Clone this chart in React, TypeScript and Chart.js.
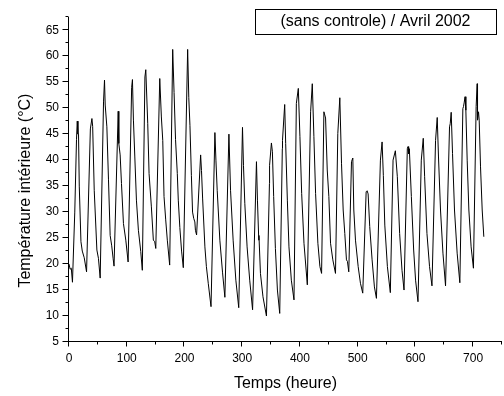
import { useEffect, useRef } from "react";
import { Chart, registerables } from "chart.js";

Chart.register(...registerables);

// ---- texts ----
const legendText = "(sans controle) / Avril 2002";
const xTitle = "Temps (heure)";
const yTitle = "Température intérieure (°C)";

// ---- axes ----
const xMin = 0;
const xMax = 750;
const xMajorStep = 100;
const xMinorStep = 50;
const yMin = 5;
const yMax = 67.5;
const yMajorStep = 5;
const yMinorStep = 2.5;
const xTickLabels = [0, 100, 200, 300, 400, 500, 600, 700];
const yTickLabels = [5, 10, 15, 20, 25, 30, 35, 40, 45, 50, 55, 60, 65];

// ---- readings: [hour, temperature °C] ----
const readings: [number, number][] = [
  // day 1
  [0, 20], [2, 19], [4, 19.2], [6, 16.5], [10, 30], [13, 44], [14.3, 47.5], [15.5, 45], [16.5, 45],
  [17.8, 35], [20.7, 24.3], [23, 22.5], [26.4, 21.2], [30.4, 18.5],
  // day 2
  [37, 46], [39.7, 48], [41, 46.5], [43.7, 34.2], [48.3, 22.7], [51, 21.1], [54, 17.3],
  // day 3
  [59.8, 51.2], [61.5, 55.4], [62.7, 50.6], [65.6, 46.4], [68.4, 36.2], [71.3, 25.5], [74, 23.5],
  [76.5, 21], [78, 19.6],
  // day 4
  [85.2, 49.4], [86.3, 43.2], [88.6, 41], [90.9, 35.5], [94.3, 27.8], [98.4, 24.6], [102.4, 20.4],
  // day 5
  [108.5, 54], [109.9, 55.5], [111.6, 47.7], [114, 40.6], [116.8, 32.3], [120.2, 26.5], [124.3, 22.4],
  [127, 18.8],
  // day 6
  [131.5, 56], [133, 57.4], [136.4, 47], [138.7, 37.4], [142.7, 31], [146.1, 24.6], [148.5, 24.3],
  [150.3, 23],
  // day 7
  [157.2, 55.7], [160, 48.3], [162.4, 43.8], [164.6, 33], [167.5, 28.5], [170.3, 24.6], [174.4, 19.8],
  // day 8
  [179.6, 61.3], [182, 53], [184.5, 44], [187.6, 37.4], [189.3, 32.3], [192, 27], [195, 22.5], [198, 19.3],
  // day 9
  [205.5, 61.3], [207.5, 52], [209.5, 46.7], [212, 37], [214, 30], [216, 28.8], [218, 28.1], [219, 26.5],
  [221, 25.6],
  // day 10
  [228, 41], [229.5, 38], [231.4, 32.7], [235.4, 23.3], [238, 19.5], [241.2, 16.3], [246, 11.8],
  // day 11
  [252.7, 45.3], [254.5, 40], [256.7, 34.2], [261.3, 24.6], [266, 18.3], [270, 13.6],
  // day 12
  [277, 45], [279.8, 34.2], [284.3, 24.6], [289, 16.9], [294, 11.6],
  // day 13
  [300.5, 46.3], [302.2, 39], [304.5, 31.7], [308.5, 23.3], [313, 16.9], [318, 11.2],
  // day 14
  [324.7, 39.7], [326.4, 32.3], [328.7, 24.6], [329, 25.5], [331.6, 18.2], [336, 13.7], [342, 10],
  // day 15
  [347.2, 35.5], [347.4, 39], [350.6, 43.3], [352.3, 41.6], [354.5, 33], [357.5, 23], [361, 15], [365, 10.5],
  // day 16
  [369.5, 42.2], [369.8, 43.8], [373.6, 50.7], [375.3, 43.2], [378.2, 32.3], [381, 23.3], [385.1, 16.9],
  [389.7, 13.1],
  // day 17
  [393.8, 50.9], [397.2, 53.8], [400, 44.5], [403, 33.6], [407, 24], [412.8, 16],
  // day 18
  [418.5, 49.3], [421.4, 54.7], [424.2, 44.5], [427.1, 33.6], [431.1, 24], [434.6, 19.5], [437.5, 18.2],
  // day 19
  [441.5, 49.3], [444.4, 48.1], [447.3, 38.1], [450.1, 33], [453, 24], [457, 20.8], [461.6, 18.2],
  // day 20
  [465.6, 45.1], [469.1, 52], [472, 39.4], [474.9, 30.4], [477.7, 25.9], [480.6, 20.8], [482.3, 20.5],
  [484.6, 18.5],
  // day 21
  [489.3, 39.7], [491.6, 40.4], [493.3, 30.4], [496.2, 24.6], [500.9, 19.5], [504.8, 16.3], [508.8, 14.4],
  // day 22
  [514.7, 33.9], [516.4, 34.1], [518.1, 33.5], [520.9, 27.2], [525, 20.8], [529, 15.6], [532.5, 13.4],
  // day 23
  [539.4, 40], [542.3, 43.5], [544.5, 37], [547, 27.5], [551.5, 19.5], [556.6, 14.5],
  // day 24
  [561.3, 40], [565.3, 41.8], [568.7, 36.8], [572.7, 25.9], [576.8, 18.8], [580.3, 15],
  // day 25
  [586, 42.2], [587.2, 42.6], [588.3, 41.2], [589.5, 42.2], [593, 33], [597, 22.7], [600.3, 16.9],
  [604.5, 12.75],
  // day 26
  [610.2, 40], [613.6, 44.2], [616, 36.8], [620, 25.9], [624.5, 19.5], [628.7, 15.8],
  // day 27
  [634.9, 43.8], [637.8, 48.2], [640, 40.6], [643.5, 30.4], [647.7, 22.1], [652.2, 15.8],
  // day 28
  [659.1, 46.4], [660.3, 47], [662, 49.2], [664.3, 41.3], [667.7, 30.4], [672.3, 22.1], [677, 16.4],
  // day 29
  [682.2, 49.9], [683.3, 50.3], [684.4, 51], [686, 52.2], [687.4, 49.6], [689.7, 40], [692.6, 30.4],
  [696.5, 23.3], [700.5, 19.2],
  // day 30
  [705.2, 50.3], [707, 54.7], [707.6, 47.7], [709.3, 49.3], [710.5, 47.7], [712.8, 38.7], [715.7, 30.4],
  [718.5, 25.25],
];

const FONT = "'Liberation Sans', Arial, Helvetica, sans-serif";

const decorPlugin = {
  id: "decor",
  afterDraw(chart: any) {
    const { ctx, chartArea } = chart;
    const xs = chart.scales.x;
    const ys = chart.scales.y;
    ctx.save();
    ctx.strokeStyle = "#000";
    ctx.lineWidth = 1;

    const axisX = Math.round(xs.getPixelForValue(xMin)) - 0.5;
    const axisY = Math.round(ys.getPixelForValue(yMin)) - 0.5;
    const topY = Math.round(ys.getPixelForValue(yMax));
    const rightX = Math.round(xs.getPixelForValue(xMax));

    ctx.beginPath();
    ctx.moveTo(axisX, topY);
    ctx.lineTo(axisX, axisY + 0.5);
    ctx.moveTo(axisX - 0.5, axisY);
    ctx.lineTo(rightX, axisY);

    // y ticks
    for (let v = yMin; v <= yMax + 1e-6; v += yMinorStep) {
      const isMajor = Math.abs(v / yMajorStep - Math.round(v / yMajorStep)) < 1e-6;
      const py = Math.round(ys.getPixelForValue(v)) - 0.5;
      const len = isMajor ? 6 : 3;
      ctx.moveTo(axisX - len, py);
      ctx.lineTo(axisX, py);
    }
    // x ticks
    for (let v = xMin; v <= xMax + 1e-6; v += xMinorStep) {
      const isMajor = v % xMajorStep === 0;
      const px = Math.round(xs.getPixelForValue(v)) - 0.5;
      const len = isMajor ? 5 : 3;
      ctx.moveTo(px, axisY);
      ctx.lineTo(px, axisY + len);
    }
    ctx.stroke();

    // axis titles
    ctx.fillStyle = "#000";
    ctx.font = `16px ${FONT}`;
    ctx.textAlign = "center";
    ctx.textBaseline = "middle";
    ctx.fillText(xTitle, (chartArea.left + chartArea.right) / 2, 384);

    ctx.save();
    ctx.translate(26, (chartArea.top + chartArea.bottom) / 2 + 11);
    ctx.rotate(-Math.PI / 2);
    ctx.fillText(yTitle, 0, 0);
    ctx.restore();

    // legend box
    ctx.strokeRect(255.5, 9.5, 241, 25);
    ctx.fillText(legendText, 375.5, 22);

    ctx.restore();
  },
};

export default function App() {
  const ref = useRef<HTMLCanvasElement>(null);

  useEffect(() => {
    if (!ref.current) return;
    const tickFont = { family: FONT, size: 12 };
    const chart = new Chart(ref.current, {
      type: "line",
      data: {
        datasets: [
          {
            data: readings.map(([x, y]) => ({ x, y })),
            borderColor: "#000",
            borderWidth: 1,
            pointRadius: 0,
            tension: 0,
            fill: false,
          },
        ],
      },
      options: {
        animation: false,
        responsive: false,
        devicePixelRatio: 1,
        layout: { padding: { top: 16, right: 2, left: 0, bottom: 0 } },
        plugins: {
          legend: { display: false },
          tooltip: { enabled: false },
          title: { display: false },
        },
        scales: {
          x: {
            type: "linear",
            min: xMin,
            max: xMax,
            afterBuildTicks: (s: any) => {
              s.ticks = xTickLabels.map((v) => ({ value: v }));
            },
            afterFit: (s: any) => {
              s.height = 54;
            },
            grid: { display: false, drawTicks: false },
            border: { display: false },
            ticks: {
              autoSkip: false,
              maxRotation: 0,
              padding: 9,
              color: "#000",
              font: tickFont,
              callback: (v: any) => String(v),
            },
          },
          y: {
            type: "linear",
            min: yMin,
            max: yMax,
            afterBuildTicks: (s: any) => {
              s.ticks = yTickLabels.map((v) => ({ value: v }));
            },
            afterFit: (s: any) => {
              s.width = 69;
            },
            grid: { display: false, drawTicks: false },
            border: { display: false },
            ticks: {
              autoSkip: false,
              padding: 10,
              color: "#000",
              font: tickFont,
              callback: (v: any) => String(v),
            },
          },
        },
      },
      plugins: [decorPlugin],
    });
    return () => chart.destroy();
  }, []);

  return (
    <div style={{ position: "absolute", left: 0, top: 0, width: 504, height: 396, background: "#fff" }}>
      <canvas ref={ref} width={504} height={396} style={{ width: 504, height: 396, display: "block" }} />
    </div>
  );
}
